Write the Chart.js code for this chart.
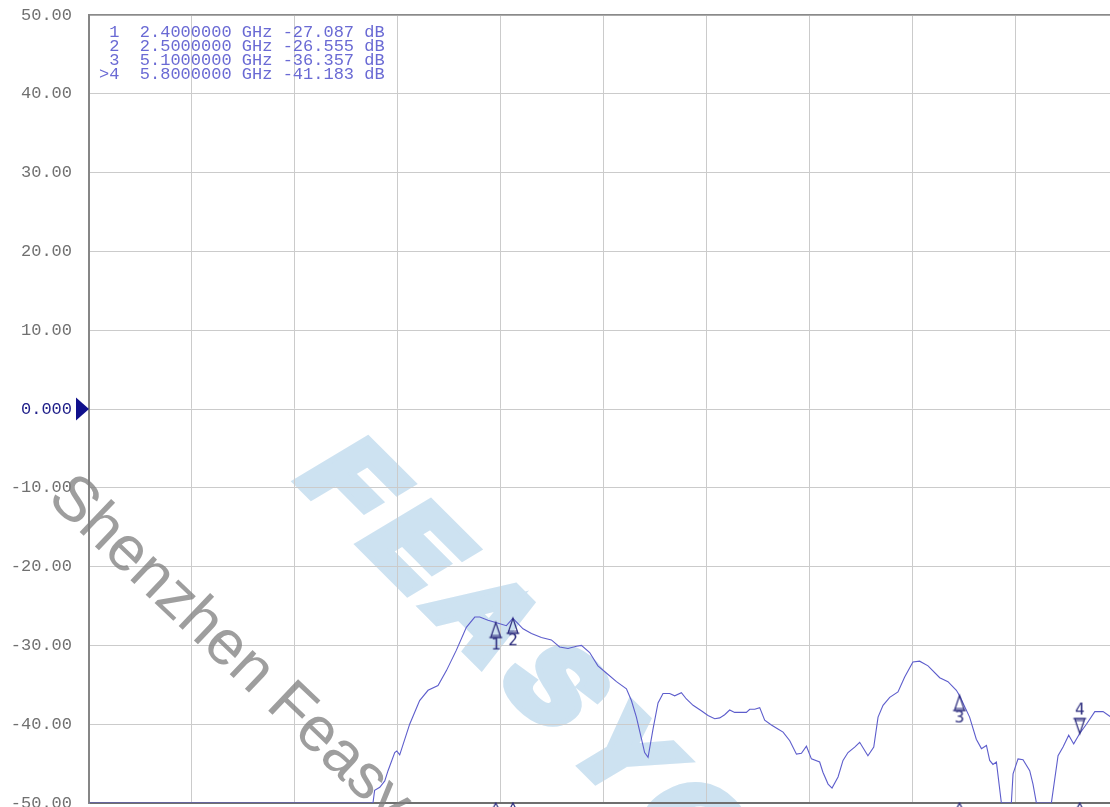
<!DOCTYPE html>
<html><head><meta charset="utf-8">
<script src="https://cdn.jsdelivr.net/npm/chart.js@4.4.1/dist/chart.umd.min.js"></script>
<style>
html,body{margin:0;padding:0;background:#fff;overflow:hidden;width:1110px;height:807px;}
#c{position:absolute;left:0;top:0;}
</style></head><body>
<canvas id="c" width="1130" height="815"></canvas>
<script>
// ---- data ----
const freqGHz = [0.032,1.678,1.686,1.695,1.725,1.754,1.773,1.812,1.824,1.841,1.899,1.957,2.006,2.064,2.113,2.171,2.229,2.278,2.307,2.355,2.400,2.462,2.500,2.559,2.608,2.666,2.724,2.772,2.821,2.870,2.899,2.947,2.995,3.044,3.103,3.161,3.190,3.219,3.248,3.267,3.287,3.316,3.345,3.374,3.413,3.442,3.481,3.510,3.549,3.597,3.636,3.675,3.704,3.733,3.762,3.791,3.859,3.879,3.908,3.937,3.966,4.005,4.043,4.073,4.112,4.151,4.180,4.209,4.238,4.286,4.305,4.335,4.358,4.393,4.422,4.451,4.490,4.519,4.567,4.601,4.626,4.655,4.694,4.742,4.781,4.829,4.868,4.917,4.985,5.033,5.082,5.100,5.159,5.198,5.228,5.257,5.276,5.295,5.315,5.344,5.402,5.412,5.441,5.470,5.509,5.528,5.548,5.635,5.674,5.703,5.736,5.765,5.800,5.839,5.888,5.936,5.975,6.020];
const s11dB = [-50,-50,-49.9,-48.4,-48.0,-47.2,-45.9,-43.6,-43.4,-43.9,-40.0,-37.0,-35.7,-35.1,-33.2,-30.6,-27.7,-26.4,-26.4,-26.8,-27.087,-27.5,-26.555,-27.9,-28.5,-29.0,-29.3,-30.2,-30.4,-30.1,-30.0,-30.9,-32.6,-33.5,-34.6,-35.5,-37.0,-39.1,-41.8,-43.6,-44.2,-40.6,-37.3,-36.1,-36.1,-36.4,-36.0,-36.8,-37.6,-38.3,-38.9,-39.3,-39.2,-38.8,-38.2,-38.5,-38.5,-38.1,-38.1,-37.9,-39.5,-40.1,-40.6,-41.0,-42.1,-43.8,-43.7,-42.8,-44.4,-44.8,-46.1,-47.6,-48.1,-46.7,-44.6,-43.6,-42.9,-42.3,-44.0,-42.9,-39.1,-37.6,-36.6,-35.9,-34.0,-32.1,-32.0,-32.6,-34.1,-34.6,-35.7,-36.357,-39.1,-41.9,-43.1,-42.7,-44.6,-45.1,-44.8,-50,-50,-46.3,-44.4,-44.5,-45.9,-47.6,-50,-50,-44.0,-42.9,-41.4,-42.5,-41.183,-40.0,-38.4,-38.4,-39.0,-39.5];
const yTickValues = [50,40,30,20,10,0,-10,-20,-30,-40,-50];
const yTickLabels = ['50.00','40.00','30.00','20.00','10.00','0.000','-10.00','-20.00','-30.00','-40.00','-50.00'];
const markerLabels = ['1','2','3','>4'];
const markerFreqGHz = [2.4,2.5,5.1,5.8];
const markerDb = [-27.087,-26.555,-36.357,-41.183];
const xStartGHz = 0.032, xStopGHz = 6.023;
const yTopDb = 50, yBottomDb = -50, refLevelDb = 0;

// ---- marker glyphs ----
const NAVY = '#2a2a7c';
function markerGlyph(num, down){
  const W=26,H=80,c=document.createElement('canvas');c.width=W;c.height=H;
  const g=c.getContext('2d');const cx=W/2,cy=H/2,s=down?-1:1,h=15,hw=5;
  g.strokeStyle=NAVY;g.fillStyle=NAVY;g.lineWidth=1.2;
  g.beginPath();g.moveTo(cx,cy);g.lineTo(cx-hw,cy+s*h);g.lineTo(cx+hw,cy+s*h);g.closePath();g.stroke();
  g.beginPath();g.moveTo(cx-6.5,cy+s*h);g.lineTo(cx+6.5,cy+s*h);g.moveTo(cx-5,cy+s*(h-2));g.lineTo(cx+5,cy+s*(h-2));g.stroke();
  g.font='16px "DejaVu Sans Mono"';g.textAlign='center';g.textBaseline='middle';
  g.fillText(num,cx,cy+s*(h+8));
  return c;
}
function bottomGlyph(){
  const c=document.createElement('canvas');c.width=14;c.height=20;
  const g=c.getContext('2d');g.strokeStyle=NAVY;g.lineWidth=1.2;
  g.beginPath();g.moveTo(7,10);g.lineTo(3,18);g.lineTo(11,18);g.closePath();g.stroke();
  return c;
}
function refGlyph(){
  const c=document.createElement('canvas');c.width=28;c.height=26;
  const g=c.getContext('2d');g.fillStyle='#10108c';
  g.beginPath();g.moveTo(14,13);g.lineTo(1,1.5);g.lineTo(1,24.5);g.closePath();g.fill();
  return c;
}
const markerStyles = markerLabels.map(l => markerGlyph(l.replace('>',''), l.startsWith('>')));
const bStyle = bottomGlyph();

const trace = freqGHz.map((f,i)=>({x:f,y:s11dB[i]}));
const markers = markerFreqGHz.map((f,i)=>({x:f,y:markerDb[i]}));
const bottomMarks = markerFreqGHz.map(f=>({x:f,y:yBottomDb}));

const deco = {
  id:'deco',
  beforeDraw(chart){
    const ctx=chart.ctx;ctx.save();
    ctx.fillStyle='#fff';ctx.fillRect(0,0,chart.width,chart.height);
    // light blue watermark
    ctx.transform(0.707,0.707,-0.857,0.515,287,476);
    ctx.font='bold 114px "Liberation Sans"';
    try{ctx.letterSpacing='19px';}catch(e){}
    ctx.fillStyle='#cde2f1';ctx.strokeStyle='#cde2f1';ctx.lineWidth=12;ctx.lineJoin='miter';
    ctx.textBaseline='alphabetic';
    ctx.strokeText('FEASYCOM',5,-5);ctx.fillText('FEASYCOM',5,-5);
    ctx.restore();
  },
  afterDraw(chart){
    const ctx=chart.ctx,a=chart.chartArea;ctx.save();
    ctx.font='17px "Liberation Mono"';ctx.fillStyle='#6a6ad4';ctx.textBaseline='middle';ctx.textAlign='left';
    markerLabels.forEach((l,i)=>{
      const line=(l.length<2?' '+l:l)+'  '+markerFreqGHz[i].toFixed(7)+' GHz '+markerDb[i].toFixed(3)+' dB';
      ctx.fillText(line,a.left+10,a.top+17+i*14);
    });
    ctx.restore();
    ctx.save();
    ctx.translate(46,500);ctx.rotate(43.5*Math.PI/180);
    ctx.font='63px "Liberation Sans"';ctx.fillStyle='rgba(125,125,125,0.75)';ctx.textBaseline='alphabetic';
    ctx.fillText('Shenzhen Feasycom',0,0);
    ctx.restore();
  }
};

new Chart(document.getElementById('c'),{
  type:'line',
  data:{datasets:[
    {data:markers,showLine:false,pointStyle:markerStyles,pointRadius:5,clip:false},
    {data:bottomMarks,showLine:false,pointStyle:bStyle,pointRadius:5,clip:false},
    {data:[{x:xStartGHz,y:refLevelDb}],showLine:false,pointStyle:refGlyph(),pointRadius:5,clip:false},
    {data:trace,borderColor:'#5d5dcc',borderWidth:1.1,pointRadius:0,tension:0,fill:false}
  ]},
  options:{
    responsive:false,animation:false,
    layout:{padding:{top:15,right:12,bottom:12,left:0}},
    plugins:{legend:{display:false},tooltip:{enabled:false}},
    scales:{
      x:{type:'linear',min:xStartGHz,max:xStopGHz,
        afterBuildTicks(s){s.ticks=Array.from({length:11},(_,k)=>({value:xStartGHz+k*(xStopGHz-xStartGHz)/10}));},
        afterFit(s){s.height=0;},
        ticks:{display:false},
        grid:{color:'#cbcbcb',lineWidth:1,drawTicks:false},
        border:{color:'#6f6f6f',width:2}},
      x2:{type:'linear',position:'top',min:xStartGHz,max:xStopGHz,
        afterFit(s){s.height=0;},
        ticks:{display:false},grid:{display:false},
        border:{display:true,color:'#8a8a8a',width:1.5}},
      y:{type:'linear',min:yBottomDb,max:yTopDb,
        afterBuildTicks(s){s.ticks=yTickValues.map(v=>({value:v}));},
        afterFit(s){s.width=89;},
        ticks:{padding:0,font:{family:'"Liberation Mono"',size:17},
          color:(c)=>c.tick&&c.tick.value===refLevelDb?'#20208a':'#707070',
          callback:(v)=>{const i=yTickValues.indexOf(v);return i>=0?yTickLabels[i]:'';}},
        grid:{color:'#cbcbcb',lineWidth:1,drawTicks:true,tickLength:17,tickColor:'rgba(0,0,0,0)'},
        border:{color:'#868686',width:2}}
    }
  },
  plugins:[deco]
});
</script>
</body></html>
